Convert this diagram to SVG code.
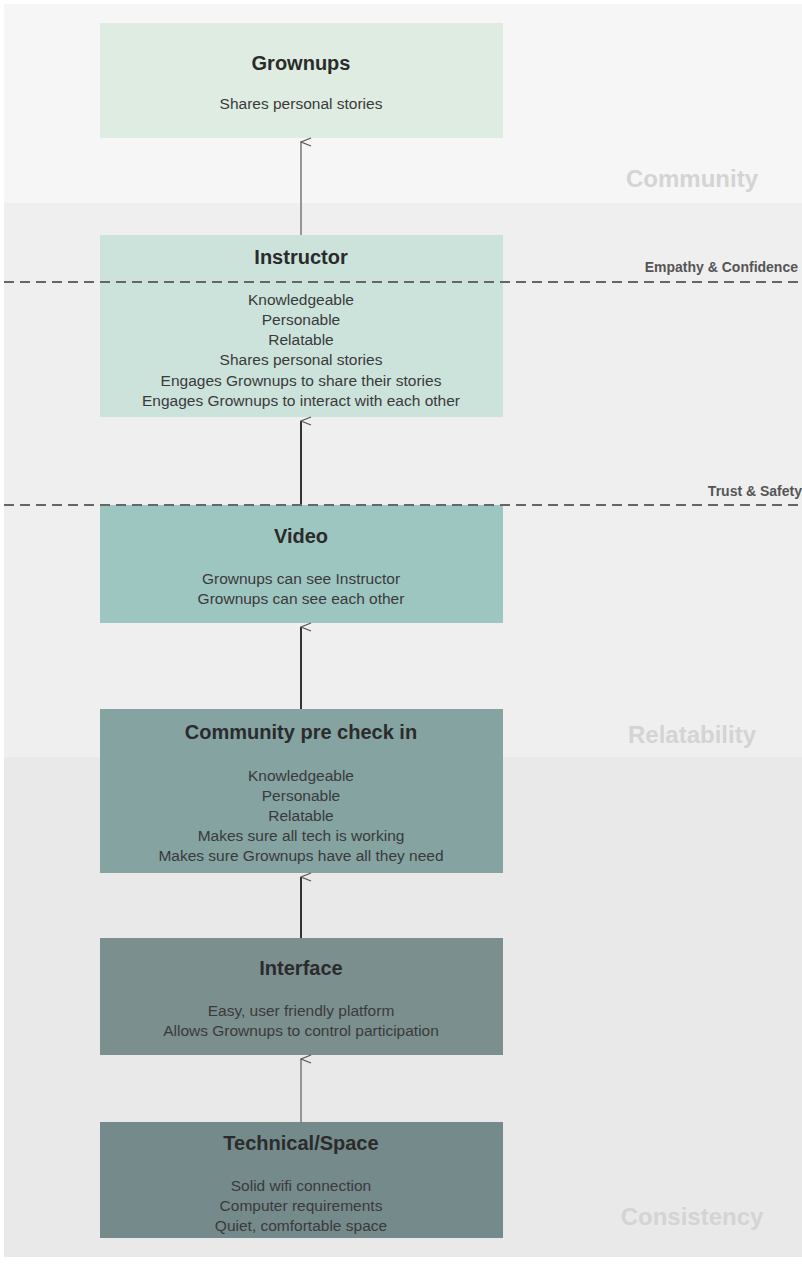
<svg xmlns="http://www.w3.org/2000/svg" width="802" height="1264" viewBox="0 0 802 1264">
<defs>
<style>
.t{font-family:"Liberation Sans",Arial,sans-serif;font-size:20px;font-weight:bold;fill:#2b2b2b;text-anchor:middle}
.b{font-family:"Liberation Sans",Arial,sans-serif;font-size:15.5px;fill:#3a3a3a;text-anchor:middle}
.band{font-family:"Liberation Sans",Arial,sans-serif;font-size:24px;font-weight:bold;fill:#d4d4d4;text-anchor:middle}
.lv{font-family:"Liberation Sans",Arial,sans-serif;font-size:14px;font-weight:bold;fill:#555;text-anchor:end}
.c{stroke:#555;stroke-width:1.5;fill:none;marker-end:url(#ah)}
</style>
<marker id="ah" markerWidth="10" markerHeight="12" refX="5" refY="1" orient="auto-start-reverse" markerUnits="userSpaceOnUse" viewBox="0 0 10 12"><path d="M1 11 L5 1 L9 11" fill="none" stroke="#555" stroke-width="1.3"/></marker>
</defs>
<rect width="802" height="1264" fill="#ffffff"/>
<rect x="4" y="4" width="798" height="199" fill="#f6f6f6"/>
<rect x="4" y="203" width="798" height="554" fill="#efefef"/>
<rect x="4" y="757" width="798" height="500" fill="#e9e9e9"/>
<text class="band" x="692" y="187">Community</text>
<text class="band" x="692" y="743">Relatability</text>
<text class="band" x="692" y="1225">Consistency</text>
<g id="n-grownups"><rect x="100" y="23" width="403" height="115" fill="#deece2"/>
<text class="t" x="301" y="70">Grownups</text><text class="b" x="301" y="109">Shares personal stories</text></g>
<g id="n-instructor"><rect x="100" y="235" width="403" height="182" fill="#cce3dc"/>
<text class="t" x="301" y="264">Instructor</text>
<text class="b" x="301" y="305">Knowledgeable</text><text class="b" x="301" y="325">Personable</text><text class="b" x="301" y="345">Relatable</text><text class="b" x="301" y="365">Shares personal stories</text><text class="b" x="301" y="386">Engages Grownups to share their stories</text><text class="b" x="301" y="406">Engages Grownups to interact with each other</text></g>
<g id="n-video"><rect x="100" y="505" width="403" height="118" fill="#9ec6c0"/>
<text class="t" x="301" y="543">Video</text><text class="b" x="301" y="584">Grownups can see Instructor</text><text class="b" x="301" y="604">Grownups can see each other</text></g>
<g id="n-precheck"><rect x="100" y="709" width="403" height="164" fill="#84a3a1"/>
<text class="t" x="301" y="739">Community pre check in</text>
<text class="b" x="301" y="781">Knowledgeable</text><text class="b" x="301" y="801">Personable</text><text class="b" x="301" y="821">Relatable</text><text class="b" x="301" y="841">Makes sure all tech is working</text><text class="b" x="301" y="861">Makes sure Grownups have all they need</text></g>
<g id="n-interface"><rect x="100" y="938" width="403" height="117" fill="#7c8f8f"/>
<text class="t" x="301" y="975">Interface</text><text class="b" x="301" y="1016">Easy, user friendly platform</text><text class="b" x="301" y="1036">Allows Grownups to control participation</text></g>
<g id="n-technical"><rect x="100" y="1122" width="403" height="116" fill="#758a8b"/>
<text class="t" x="301" y="1150">Technical/Space</text><text class="b" x="301" y="1191">Solid wifi connection</text><text class="b" x="301" y="1211">Computer requirements</text><text class="b" x="301" y="1231">Quiet, comfortable space</text></g>
<g id="connectors">
<line class="c" x1="301" y1="235" x2="301" y2="142" style="stroke:#777"/>
<line class="c" x1="301" y1="505" x2="301" y2="421" style="stroke-width:2;stroke:#333"/>
<line class="c" x1="301" y1="709" x2="301" y2="627" style="stroke-width:2;stroke:#333"/>
<line class="c" x1="301" y1="938" x2="301" y2="877" style="stroke-width:2;stroke:#333"/>
<line class="c" x1="301" y1="1122" x2="301" y2="1059" style="stroke:#777"/>
</g>
<g id="levels">
<line x1="4" y1="282" x2="802" y2="282" stroke="#666" stroke-width="2" stroke-dasharray="10,6"/>
<line x1="4" y1="505" x2="802" y2="505" stroke="#666" stroke-width="2" stroke-dasharray="10,6"/>
<text class="lv" x="798" y="272">Empathy &amp; Confidence</text>
<text class="lv" x="802" y="496">Trust &amp; Safety</text>
</g>
</svg>
